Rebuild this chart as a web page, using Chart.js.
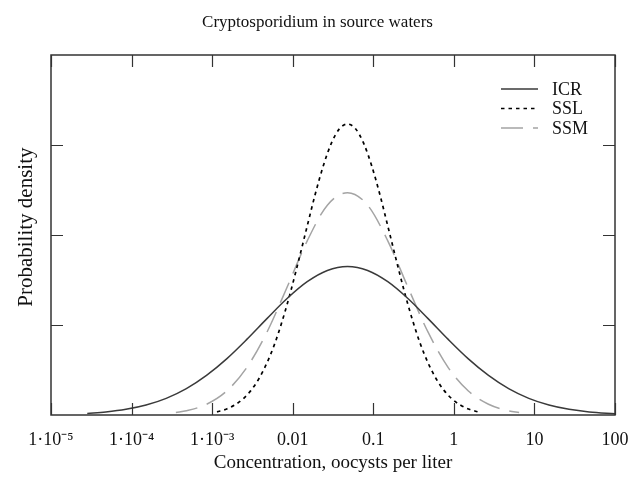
<!DOCTYPE html>
<html>
<head>
<meta charset="utf-8">
<script src="https://cdn.jsdelivr.net/npm/chart.js@4.4.0/dist/chart.umd.min.js"></script>
<style>
  html, body { margin: 0; background: #fff; }
</style>
</head>
<body>
<canvas id="myChart" width="635" height="479"></canvas>
<script>
// x axis decades and their labels
const tickValues = [1e-5, 1e-4, 1e-3, 0.01, 0.1, 1, 10, 100];
const tickLabels = ['1·10⁻⁵', '1·10⁻⁴', '1·10⁻³', '0.01', '0.1', '1', '10', '100'];
const yTickValues = [0, 1, 2, 3, 4];

const seriesNames = ['ICR', 'SSL', 'SSM'];

// log10 of concentration (oocysts per liter) and density
const icrLogConc = [-4.55, -4.32, -4.07, -3.82, -3.57, -3.32, -3.07, -2.82, -2.57, -2.32, -2.07, -1.82, -1.57, -1.32,
  -1.07, -0.82, -0.57, -0.32, -0.07, 0.18, 0.43, 0.68, 0.93, 1.18, 1.43, 1.68, 2.0];
const icrDensity = [0.018, 0.034, 0.063, 0.111, 0.185, 0.293, 0.44, 0.624, 0.84, 1.071, 1.294, 1.481, 1.606, 1.65,
  1.606, 1.481, 1.294, 1.071, 0.84, 0.624, 0.44, 0.293, 0.185, 0.111, 0.063, 0.034, 0.014];

const sslLogConc = [-2.94, -2.82, -2.72, -2.62, -2.52, -2.42, -2.32, -2.22, -2.12, -2.02, -1.92, -1.82, -1.72, -1.62, -1.52, -1.42, -1.32,
  -1.22, -1.12, -1.02, -0.92, -0.82, -0.72, -0.62, -0.52, -0.42, -0.32, -0.22, -0.12, -0.02, 0.08, 0.18, 0.30];
const sslDensity = [0.035, 0.067, 0.111, 0.176, 0.271, 0.403, 0.578, 0.80, 1.075, 1.39, 1.74, 2.10, 2.455, 2.77, 3.02, 3.18, 3.233,
  3.18, 3.02, 2.77, 2.455, 2.10, 1.74, 1.39, 1.075, 0.80, 0.578, 0.403, 0.271, 0.176, 0.111, 0.067, 0.035];

const ssmLogConc = [-3.45, -3.32, -3.07, -2.82, -2.57, -2.32, -2.07, -1.82, -1.57, -1.32,
  -1.07, -0.82, -0.57, -0.32, -0.07, 0.18, 0.43, 0.68, 0.81];
const ssmDensity = [0.0275, 0.047, 0.119, 0.266, 0.527, 0.92, 1.42, 1.935, 2.331, 2.47,
  2.331, 1.935, 1.42, 0.92, 0.527, 0.266, 0.119, 0.047, 0.0275];

const toPoints = (logs, vals) => logs.map((l, i) => ({ x: Math.pow(10, l), y: vals[i] }));

const FONT = "'Liberation Serif', 'Times New Roman', serif";
const FRAME = '#333';

// frame with inward ticks on all four sides
const framePlugin = {
  id: 'frame',
  afterDraw(chart) {
    const { ctx, chartArea: a, scales } = chart;
    ctx.save();
    ctx.strokeStyle = FRAME;
    ctx.lineWidth = 1.5;
    ctx.strokeRect(a.left, a.top, a.right - a.left, a.bottom - a.top);
    ctx.lineWidth = 1.2;
    ctx.beginPath();
    tickValues.forEach(v => {
      const px = Math.round(scales.x.getPixelForValue(v)) + 0.5;
      ctx.moveTo(px, a.bottom); ctx.lineTo(px, a.bottom - 12);
      ctx.moveTo(px, a.top); ctx.lineTo(px, a.top + 12);
    });
    yTickValues.slice(1, -1).forEach(v => {
      const py = Math.round(scales.y.getPixelForValue(v)) + 0.5;
      ctx.moveTo(a.left, py); ctx.lineTo(a.left + 12, py);
      ctx.moveTo(a.right, py); ctx.lineTo(a.right - 12, py);
    });
    ctx.stroke();
    ctx.restore();
  }
};

// legend inside the plot, top right
const legendPlugin = {
  id: 'innerLegend',
  afterDraw(chart) {
    const { ctx, chartArea: a } = chart;
    ctx.save();
    chart.data.datasets.forEach((ds, i) => {
      const y = a.top + 34 + i * 19.5;
      ctx.strokeStyle = ds.borderColor;
      ctx.lineWidth = ds.borderWidth;
      ctx.setLineDash(ds.borderDash || []);
      ctx.beginPath();
      ctx.moveTo(a.right - 114, y);
      ctx.lineTo(a.right - 77, y);
      ctx.stroke();
      ctx.setLineDash([]);
      ctx.fillStyle = '#111';
      ctx.font = '18px ' + FONT;
      ctx.textBaseline = 'middle';
      ctx.fillText(ds.label, a.right - 63, y + 1);
    });
    ctx.restore();
  }
};

new Chart(document.getElementById('myChart'), {
  type: 'line',
  data: {
    datasets: [
      {
        label: seriesNames[0],
        data: toPoints(icrLogConc, icrDensity),
        borderColor: '#3a3a3a',
        borderWidth: 1.5,
        pointRadius: 0,
        cubicInterpolationMode: 'monotone',
        fill: false
      },
      {
        label: seriesNames[1],
        data: toPoints(sslLogConc, sslDensity),
        borderColor: '#000',
        borderWidth: 1.7,
        borderDash: [3.5, 4],
        pointRadius: 0,
        cubicInterpolationMode: 'monotone',
        fill: false
      },
      {
        label: seriesNames[2],
        data: toPoints(ssmLogConc, ssmDensity),
        borderColor: '#a4a4a4',
        borderWidth: 1.5,
        borderDash: [22, 10],
        pointRadius: 0,
        cubicInterpolationMode: 'monotone',
        fill: false
      }
    ]
  },
  options: {
    responsive: false,
    animation: false,
    layout: { padding: 0 },
    plugins: {
      legend: { display: false },
      tooltip: { enabled: false },
      title: {
        display: true,
        text: 'Cryptosporidium in source waters',
        color: '#111',
        font: { family: FONT, size: 17, weight: 'normal' },
        padding: { top: 12, bottom: 22.6 }
      }
    },
    scales: {
      x: {
        type: 'logarithmic',
        min: 1e-5,
        max: 100,
        afterBuildTicks: (scale) => { scale.ticks = tickValues.map(v => ({ value: v })); },
        afterFit: (scale) => {
          scale.height = 64;
          scale.paddingLeft = 0;
          scale.paddingRight = 20;
        },
        grid: { display: false, drawTicks: false },
        border: { display: false },
        ticks: {
          padding: 14,
          maxRotation: 0,
          autoSkip: false,
          color: '#111',
          font: { family: FONT, size: 18 },
          callback: (v) => {
            const i = tickValues.findIndex(t => Math.abs(Math.log10(t) - Math.log10(v)) < 1e-6);
            return i >= 0 ? tickLabels[i] : '';
          }
        },
        title: {
          display: true,
          text: 'Concentration, oocysts per liter',
          color: '#111',
          font: { family: FONT, size: 19 },
          padding: { top: 0, bottom: 5 }
        }
      },
      y: {
        min: 0,
        max: 4,
        afterBuildTicks: (scale) => { scale.ticks = yTickValues.map(v => ({ value: v })); },
        afterFit: (scale) => { scale.width = 51; },
        grid: { display: false, drawTicks: false },
        border: { display: false },
        ticks: { display: false },
        title: {
          display: true,
          // leading spaces lift the rotated label a little above the axis centre
          text: '   Probability density',
          color: '#111',
          font: { family: FONT, size: 21 },
          padding: { top: 14, bottom: 0 }
        }
      }
    }
  },
  plugins: [framePlugin, legendPlugin]
});
</script>
</body>
</html>
